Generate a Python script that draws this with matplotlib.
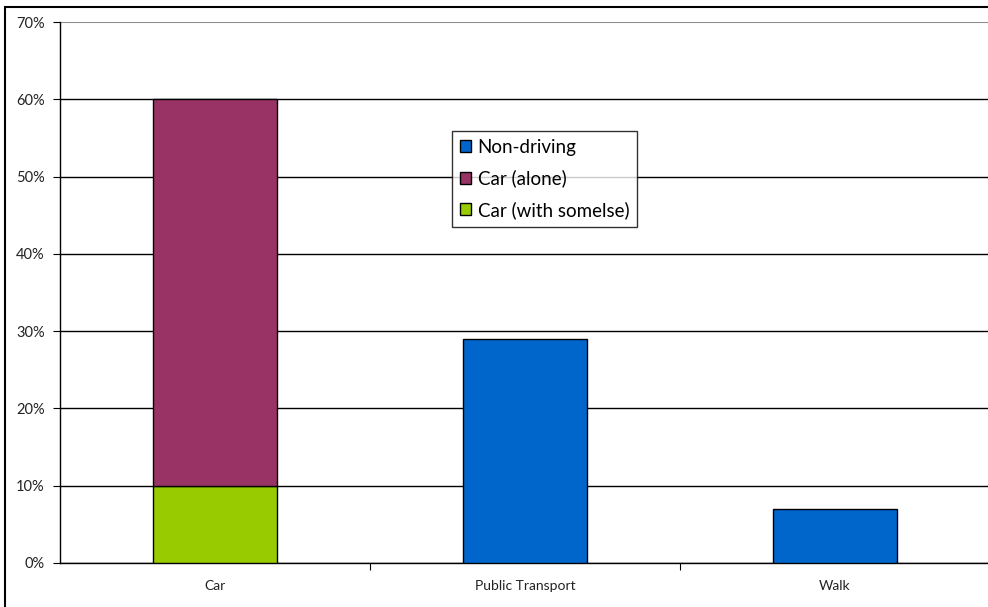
import matplotlib.pyplot as plt
import matplotlib as mpl
from matplotlib.patches import Rectangle
from matplotlib.ticker import FixedLocator, PercentFormatter

plt.rcParams['font.family'] = ['Lato', 'DejaVu Sans']

categories = ['Car', 'Public Transport', 'Walk']
non_driving = [0, 29, 7]
car_alone = [50, 0, 0]
car_with_someone = [10, 0, 0]

series_labels = ['Non-driving', 'Car (alone)', 'Car (with somelse)']
colours = ['#0066CC', '#993366', '#99CC00']

fig = plt.figure(figsize=(9.88, 6.07), dpi=100)
ax = fig.add_axes([60 / 988, 1 - 563 / 607, 930 / 988, 541 / 607])

x = range(len(categories))
width = 0.4
edge = dict(edgecolor='black', linewidth=1.0, zorder=3)
b_green = ax.bar(x, car_with_someone, width, color=colours[2], **edge)
b_purple = ax.bar(x, car_alone, width, bottom=car_with_someone, color=colours[1], **edge)
nd_x = [i for i in x if non_driving[i] > 0]
b_blue = ax.bar(nd_x, [non_driving[i] for i in nd_x], width, color=colours[0], **edge)

ax.set_xlim(-0.5, 2.5)
ax.set_ylim(0, 70)
ax.set_yticks(range(0, 71, 10))
ax.yaxis.set_major_formatter(PercentFormatter(decimals=0))
ax.yaxis.grid(True, color='black', linewidth=1.0, zorder=0)
ax.set_axisbelow(True)
ax.get_ygridlines()[-1].set_color('#8c8c8c')
ax.get_ygridlines()[-1].set_linewidth(1.5)

ax.set_xticks(list(x))
ax.set_xticklabels(categories, fontsize=10, color='#222222')
ax.tick_params(axis='x', which='major', length=0, pad=12)
ax.xaxis.set_minor_locator(FixedLocator([0.5, 1.5]))
ax.tick_params(axis='x', which='minor', length=5, width=0.8, color='black')
ax.tick_params(axis='y', length=5, width=0.8, labelsize=10.5, pad=6, colors='black')
for lab in ax.get_yticklabels():
    lab.set_color('#222222')

for side in ['top', 'right']:
    ax.spines[side].set_visible(False)
ax.spines['left'].set_linewidth(1.0)
ax.spines['bottom'].set_linewidth(1.0)

leg = ax.legend([b_blue, b_purple, b_green], series_labels,
                loc='upper left', bbox_to_anchor=((452 - 60) / 930, (563 - 131) / 541),
                fontsize=13.5, frameon=True, fancybox=False, edgecolor='black',
                handlelength=0.6, handleheight=0.6, handletextpad=0.35,
                labelspacing=0.72, borderpad=0.42, borderaxespad=0)
leg.get_frame().set_linewidth(1.0)

# outer chart border
fig.patches.append(Rectangle((5 / 988, -0.05), 1.2, 1 - 6.5 / 607 + 0.05,
                             transform=fig.transFigure, fill=False,
                             edgecolor='black', linewidth=1.5))

plt.savefig('out.png', dpi=100)
